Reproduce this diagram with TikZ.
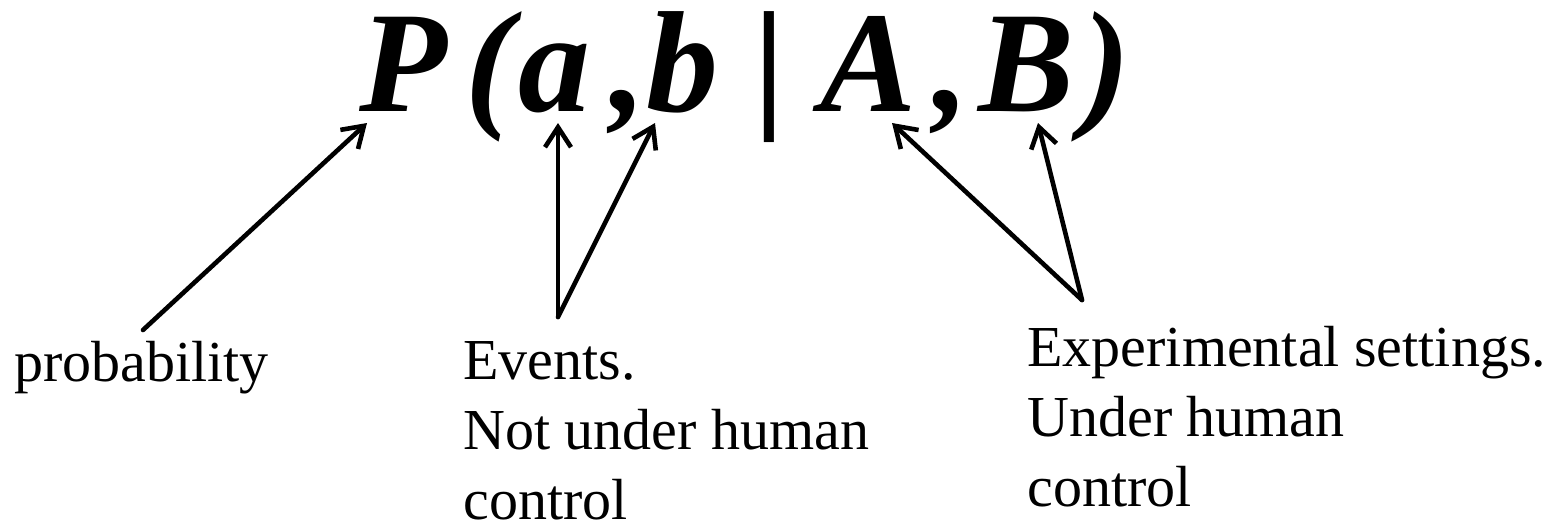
\documentclass[tikz,border=0pt]{standalone}
\usepackage{fontspec}
\setmainfont{Liberation Serif}
\usetikzlibrary{arrows.meta}
\begin{document}
\begin{tikzpicture}[
			x=0.5pt, y=-0.5pt,
			glyph/.style={anchor=base west, inner sep=0pt, font=\fontsize{72}{80}\selectfont\bfseries\itshape},
			label/.style={anchor=base west, inner sep=0pt, align=left, font=\fontsize{29}{35}\selectfont},
			pointer/.style={line width=2.3pt, line cap=round, -{Straight Barb[length=10pt, width=13pt, line width=2.3pt]}}
		]
		\useasboundingbox (0,0) rectangle (1565,526);
		\node[glyph] (fP) at (359,111) {P};
		\node[glyph] (fL) at (465,111) {(};
		\node[glyph] (fa) at (518,111) {a};
		\node[glyph] (fc1) at (610,111) {,};
		\node[glyph] (fb) at (646,111) {b};
		\node[glyph, font=\fontsize{72}{80}\selectfont\bfseries] (fbar) at (753,111) {|};
		\node[glyph] (fA) at (820,111) {A};
		\node[glyph] (fc2) at (933,111) {,};
		\node[glyph] (fB) at (978,111) {B};
		\node[glyph] (fR) at (1082,111) {)};
		\node[label] (prob) at (14,381) {probability};
		\node[label] (events) at (463,519) {Events.\\Not under human\\control};
		\node[label] (settings) at (1027,506) {Experimental settings.\\Under human\\control};
		\coordinate (tP) at (367,123);
		\coordinate (ta) at (558,123);
		\coordinate (tb) at (655,123);
		\coordinate (tA) at (892,123);
		\coordinate (tB) at (1038,123);
		\coordinate (probtail) at (143,330);
		\coordinate (eventstail) at (558,317);
		\coordinate (settingstail) at (1082,300);
		\draw[pointer] (probtail) -- (tP);
		\draw[pointer] (eventstail) -- (ta);
		\draw[pointer] (eventstail) -- (tb);
		\draw[pointer] (settingstail) -- (tA);
		\draw[pointer] (settingstail) -- (tB);
	\end{tikzpicture}
\end{document}
